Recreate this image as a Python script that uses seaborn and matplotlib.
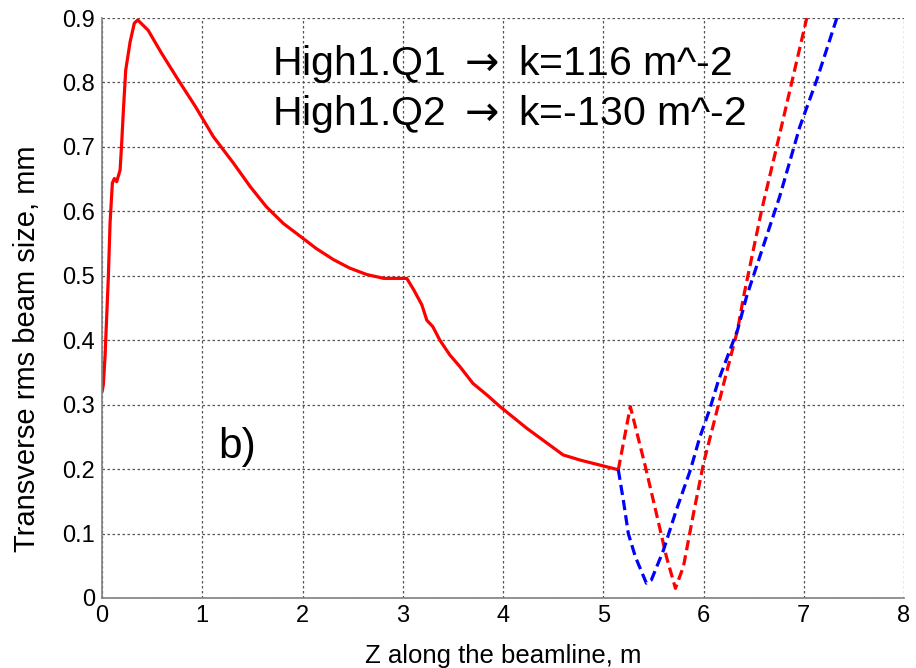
import matplotlib
matplotlib.use("Agg")
import matplotlib.pyplot as plt
import seaborn as sns
import pandas as pd

sns.set_style("white")
plt.rcParams['font.family'] = ['Liberation Sans', 'DejaVu Sans']
plt.rcParams['text.color'] = 'black'
plt.rcParams['axes.labelcolor'] = 'black'
plt.rcParams['mathtext.fontset'] = 'dejavusans'

# Solid red: beam size along beamline up to quadrupoles
z_main = [0.0, 0.013, 0.03, 0.063, 0.08, 0.103, 0.123, 0.146, 0.18, 0.196, 0.213, 0.236, 0.28,
          0.322, 0.356, 0.46, 0.595, 0.76, 0.93, 1.11, 1.31, 1.48, 1.64, 1.81, 1.98, 2.14,
          2.31, 2.47, 2.64, 2.81, 3.04, 3.11, 3.19, 3.24, 3.30, 3.37, 3.47, 3.57,
          3.70, 3.84, 3.97, 4.24, 4.6, 4.77, 5.15]
s_main = [0.32, 0.331, 0.375, 0.499, 0.582, 0.644, 0.651, 0.646, 0.664, 0.706, 0.757, 0.819, 0.863,
          0.892, 0.897, 0.881, 0.845, 0.804, 0.763, 0.716, 0.675, 0.638, 0.607, 0.581, 0.561, 0.542,
          0.525, 0.512, 0.502, 0.496, 0.496, 0.478, 0.455, 0.431, 0.421, 0.400, 0.377, 0.359,
          0.333, 0.315, 0.297, 0.263, 0.222, 0.214, 0.199]

# Dashed red: after quadrupoles
z_red = [5.15, 5.27, 5.42, 5.53, 5.63, 5.72, 5.80, 5.90, 6.00, 6.11, 6.21, 6.34, 6.40, 6.58, 6.73, 7.03]
s_red = [0.199, 0.297, 0.204, 0.131, 0.064, 0.015, 0.049, 0.131, 0.209, 0.276, 0.338, 0.416, 0.468,
         0.602, 0.70, 0.9]

# Dashed blue: after quadrupoles
z_blue = [5.15, 5.20, 5.25, 5.32, 5.43, 5.48, 5.60, 5.73, 5.87, 5.96, 6.06, 6.15, 6.34, 6.43,
          6.76, 6.96, 7.13, 7.33]
s_blue = [0.199, 0.152, 0.100, 0.064, 0.023, 0.028, 0.074, 0.137, 0.199, 0.248, 0.292, 0.338,
          0.416, 0.468, 0.623, 0.731, 0.804, 0.9]

fig = plt.figure(figsize=(9.16, 6.68), dpi=100)
ax = fig.add_axes([0.1114, 0.1048, 0.8755, 0.8682])

df_main = pd.DataFrame({"z": z_main, "s": s_main})
df_red = pd.DataFrame({"z": z_red, "s": s_red})
df_blue = pd.DataFrame({"z": z_blue, "s": s_blue})

dash = (0, (3.2, 1.6))
sns.lineplot(data=df_main, x="z", y="s", ax=ax, color="#ff0000", lw=2.3, sort=False, estimator=None)
sns.lineplot(data=df_red, x="z", y="s", ax=ax, color="#ff0000", lw=2.3, sort=False, estimator=None,
             linestyle=dash)
sns.lineplot(data=df_blue, x="z", y="s", ax=ax, color="#0000ff", lw=2.3, sort=False, estimator=None,
             linestyle=dash)

ax.set_xlim(0, 8)
ax.set_ylim(0, 0.9)
ax.set_xticks(range(0, 9))
ax.set_yticks([0, 0.1, 0.2, 0.3, 0.4, 0.5, 0.6, 0.7, 0.8, 0.9])
ax.set_yticklabels(["0", "0.1", "0.2", "0.3", "0.4", "0.5", "0.6", "0.7", "0.8", "0.9"])
ax.tick_params(direction="in", length=6, width=1, color="#808080", labelcolor="black",
               labelsize=17, pad=5)
ax.grid(True, linestyle=(0, (2, 2)), color="#555555", lw=0.9)
for side in ["left", "bottom"]:
    ax.spines[side].set_color("#808080")
    ax.spines[side].set_linewidth(1.2)
for side in ["top", "right"]:
    ax.spines[side].set_visible(False)

ax.set_xlabel("Z along the beamline, m", fontsize=18.5, labelpad=12)
ax.set_ylabel("Transverse rms beam size, mm", fontsize=21)
ax.yaxis.set_label_coords(-0.076, 0.43)

ax.text(1.696, 0.8116, r"High1.Q1 $\rightarrow$ k=116 m^-2", fontsize=29.5, va="baseline", ha="left")
ax.text(1.696, 0.734, r"High1.Q2 $\rightarrow$ k=-130 m^-2", fontsize=29.5, va="baseline", ha="left")
ax.text(1.157, 0.217, "b)", fontsize=30.5, ha="left", va="baseline")

fig.savefig("out.png", dpi=100)
